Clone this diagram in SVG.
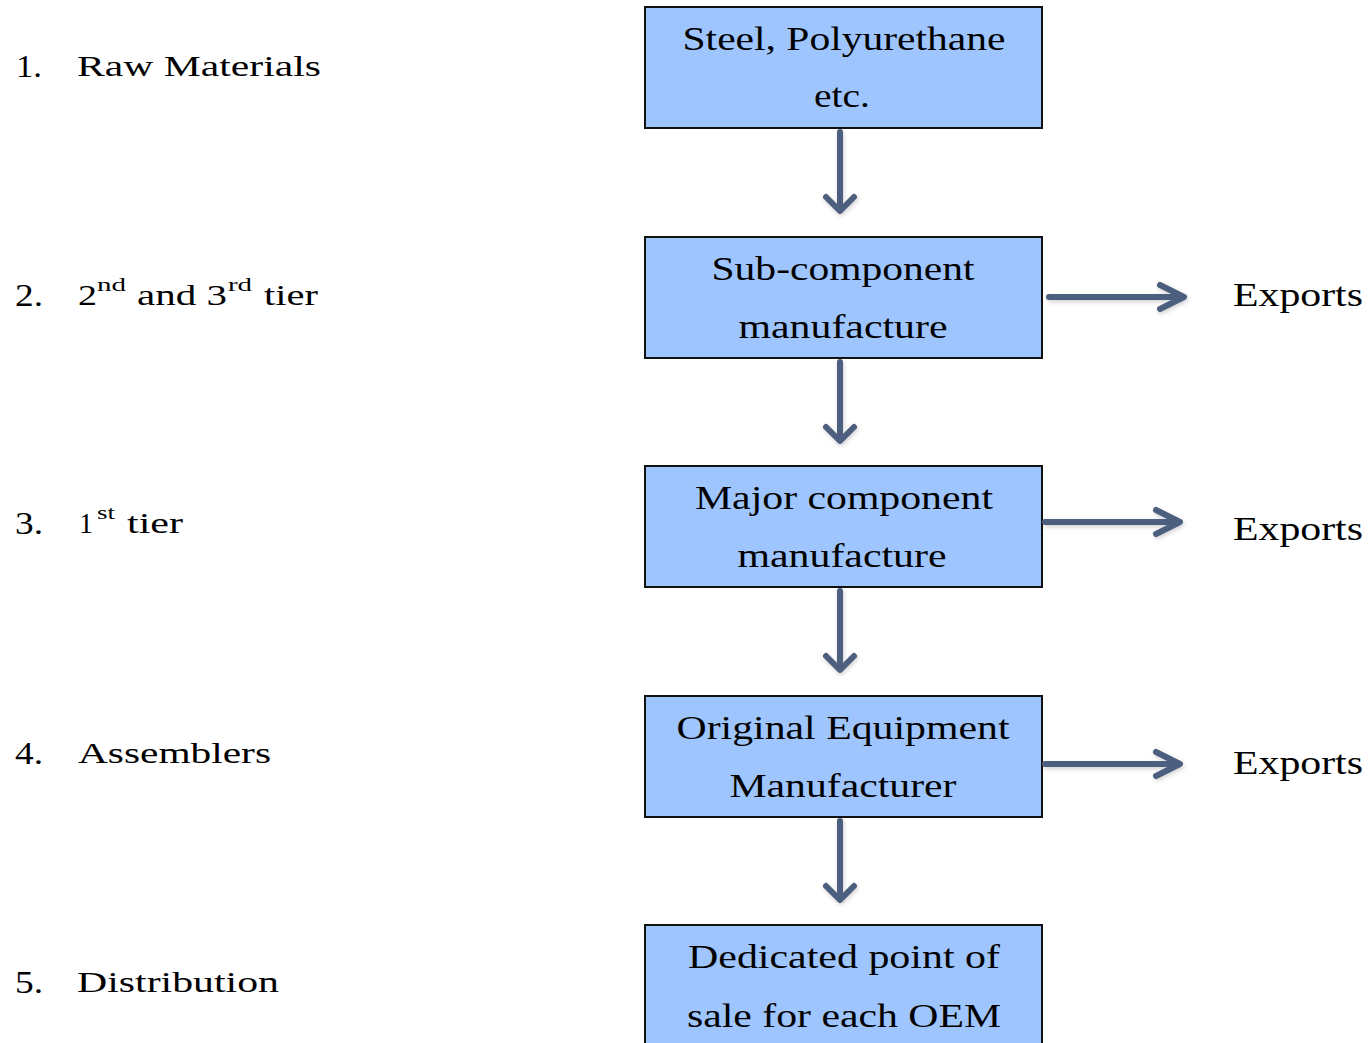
<svg xmlns="http://www.w3.org/2000/svg" width="1371" height="1043" viewBox="0 0 1371 1043">
<style>
  text { font-family: "Liberation Serif", "Times New Roman", serif; fill: #000; }
  .lbl { font-size: 30px; }
  .num { font-size: 31px; }
  .sup { font-size: 19px; }
  .box { fill: #9fc5fe; stroke: #111; stroke-width: 2; }
  .bt { font-size: 33px; text-anchor: middle; }
  .ex { font-size: 33px; }
  .arr { fill: none; stroke: #4e5f7e; stroke-width: 6; stroke-linecap: round; stroke-linejoin: round; }
</style>
<defs>
  <filter id="sh" x="-20%" y="-20%" width="140%" height="140%">
    <feDropShadow dx="1" dy="2" stdDeviation="2" flood-color="#000" flood-opacity="0.18"/>
  </filter>
</defs>
<rect width="1371" height="1043" fill="#fff"/>

<g id="labels">
  <text class="num" x="16" y="77" textLength="26" lengthAdjust="spacingAndGlyphs">1.</text>
  <text class="lbl" x="77" y="76" textLength="244" lengthAdjust="spacingAndGlyphs">Raw Materials</text>
  <text class="num" x="15" y="306" textLength="28" lengthAdjust="spacingAndGlyphs">2.</text>
  <text class="lbl" x="78" y="305" textLength="19" lengthAdjust="spacingAndGlyphs">2</text>
  <text class="sup" x="97" y="291" textLength="29" lengthAdjust="spacingAndGlyphs">nd</text>
  <text class="lbl" x="137" y="305" textLength="90" lengthAdjust="spacingAndGlyphs">and 3</text>
  <text class="sup" x="228" y="291" textLength="24" lengthAdjust="spacingAndGlyphs">rd</text>
  <text class="lbl" x="264" y="305" textLength="54" lengthAdjust="spacingAndGlyphs">tier</text>
  <text class="num" x="15" y="534" textLength="28" lengthAdjust="spacingAndGlyphs">3.</text>
  <text class="lbl" x="79" y="533" textLength="14" lengthAdjust="spacingAndGlyphs">1</text>
  <text class="sup" x="97" y="519" textLength="18" lengthAdjust="spacingAndGlyphs">st</text>
  <text class="lbl" x="127" y="533" textLength="56" lengthAdjust="spacingAndGlyphs">tier</text>
  <text class="num" x="15" y="764" textLength="28" lengthAdjust="spacingAndGlyphs">4.</text>
  <text class="lbl" x="78" y="763" textLength="193" lengthAdjust="spacingAndGlyphs">Assemblers</text>
  <text class="num" x="15" y="993" textLength="28" lengthAdjust="spacingAndGlyphs">5.</text>
  <text class="lbl" x="77" y="992" textLength="202" lengthAdjust="spacingAndGlyphs">Distribution</text>
</g>

<g id="node1">
  <rect class="box" x="645" y="7" width="397" height="121"/>
  <text class="bt" x="844" y="50" textLength="323" lengthAdjust="spacingAndGlyphs">Steel, Polyurethane</text>
  <text class="bt" x="842" y="107" textLength="56" lengthAdjust="spacingAndGlyphs">etc.</text>
</g>
<g id="node2">
  <rect class="box" x="645" y="237" width="397" height="121"/>
  <text class="bt" x="843" y="280" textLength="263" lengthAdjust="spacingAndGlyphs">Sub-component</text>
  <text class="bt" x="843" y="338" textLength="209" lengthAdjust="spacingAndGlyphs">manufacture</text>
</g>
<g id="node3">
  <rect class="box" x="645" y="466" width="397" height="121"/>
  <text class="bt" x="844" y="509" textLength="298" lengthAdjust="spacingAndGlyphs">Major component</text>
  <text class="bt" x="842" y="567" textLength="209" lengthAdjust="spacingAndGlyphs">manufacture</text>
</g>
<g id="node4">
  <rect class="box" x="645" y="696" width="397" height="121"/>
  <text class="bt" x="843" y="739" textLength="333" lengthAdjust="spacingAndGlyphs">Original Equipment</text>
  <text class="bt" x="843" y="797" textLength="227" lengthAdjust="spacingAndGlyphs">Manufacturer</text>
</g>
<g id="node5">
  <rect class="box" x="645" y="925" width="397" height="130"/>
  <text class="bt" x="844" y="968" textLength="312" lengthAdjust="spacingAndGlyphs">Dedicated point of</text>
  <text class="bt" x="844" y="1027" textLength="314" lengthAdjust="spacingAndGlyphs">sale for each OEM</text>
</g>

<g id="exports">
  <text class="ex" x="1233" y="306" textLength="130" lengthAdjust="spacingAndGlyphs">Exports</text>
  <text class="ex" x="1233" y="540" textLength="130" lengthAdjust="spacingAndGlyphs">Exports</text>
  <text class="ex" x="1233" y="774" textLength="130" lengthAdjust="spacingAndGlyphs">Exports</text>
</g>

<g id="connectors" filter="url(#sh)">
  <path class="arr" d="M840 132 V210 M826 197 L840 211 L854 197"/>
  <path class="arr" d="M840 362 V440 M826 427 L840 441 L854 427"/>
  <path class="arr" d="M840 591 V669 M826 656 L840 670 L854 656"/>
  <path class="arr" d="M840 821 V899 M826 886 L840 900 L854 886"/>
  <path class="arr" d="M1049 297 H1183 M1160 285 L1184 297 L1160 309"/>
  <path class="arr" d="M1045 522 H1179 M1156 510 L1180 522 L1156 534"/>
  <path class="arr" d="M1045 764 H1179 M1156 752 L1180 764 L1156 776"/>
</g>
</svg>
